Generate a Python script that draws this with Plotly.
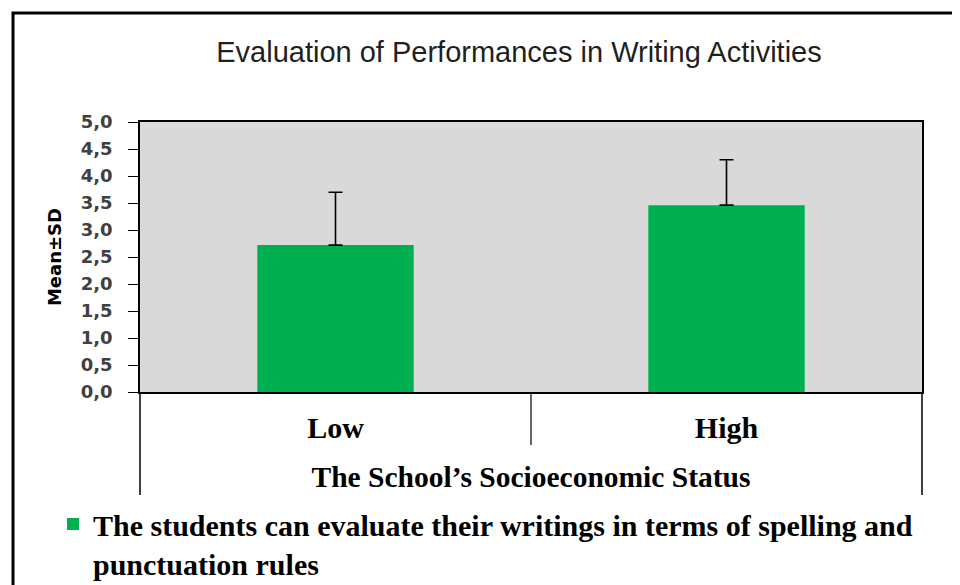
import plotly.graph_objects as go

categories = ["Low", "High"]
means = [2.72, 3.46]
sds = [0.98, 0.84]
series_name = "The students can evaluate their writings in terms of spelling and<br>punctuation rules"
y_ticks = [0, 0.5, 1, 1.5, 2, 2.5, 3, 3.5, 4, 4.5, 5]

# page body has an 8px margin; figure sized to fill the rest of the window
OFF = 8
W, H = 960 - OFF, 585 - OFF
# plot area in screen (reference) pixels
L, R, T, B = 140, 922, 122, 392

def px(x):
    return (x - L) / (R - L)

def py(y):
    return (B - y) / (B - T)

fig = go.Figure()
fig.add_trace(go.Bar(
    x=categories, y=means, name=series_name,
    marker=dict(color="#00b050", line=dict(width=0)),
    error_y=dict(type="data", array=sds, arrayminus=[0, 0], symmetric=False,
                 color="black", thickness=1.6, width=7),
    showlegend=True,
))

serif = "Liberation Serif, Times New Roman, serif"

shapes = [
    # category frame lines
    dict(type="line", xref="paper", yref="paper", x0=0, x1=0, y0=0, y1=py(495),
         line=dict(color="black", width=1.5)),
    dict(type="line", xref="paper", yref="paper", x0=1, x1=1, y0=0, y1=py(495),
         line=dict(color="black", width=1.5)),
    dict(type="line", xref="paper", yref="paper", x0=0.5, x1=0.5, y0=0, y1=py(445),
         line=dict(color="black", width=1.2)),
    # outer frame
    dict(type="rect", xref="paper", yref="paper", x0=px(13), x1=px(975), y0=py(13), y1=py(600),
         line=dict(color="black", width=3), layer="above"),
]

fig.update_layout(
    width=W, height=H,
    margin=dict(l=L - OFF, r=W - (R - OFF), t=T - OFF, b=H - (B - OFF), pad=0, autoexpand=False),
    paper_bgcolor="white",
    plot_bgcolor="#d9d9d9",
    separators=",.",
    bargap=0.6,
    title=dict(text="Evaluation of Performances in Writing Activities",
               xref="paper", x=px(519), xanchor="center",
               yref="container", y=1 - (52 - OFF) / H, yanchor="middle",
               font=dict(family="Liberation Sans, Arial, sans-serif",
                         size=29, color="#1f1f1f")),
    xaxis=dict(
        showline=True, linecolor="black", linewidth=1.5, mirror=True,
        ticks="outside", ticklen=8, tickcolor="rgba(0,0,0,0)",
        tickfont=dict(family=serif, size=30, color="black", weight="bold"),
        title=dict(text="The School’s Socioeconomic Status",
                   font=dict(family=serif, size=29.5, color="black", weight="bold"),
                   standoff=24),
        showgrid=False, zeroline=False, fixedrange=True,
    ),
    yaxis=dict(
        range=[0, 5], tickvals=y_ticks, tickformat=".1f",
        showline=True, linecolor="black", linewidth=1.5, mirror=True,
        ticks="outside", ticklen=10, tickcolor="black", tickwidth=1.2,
        ticklabelstandoff=12,
        tickfont=dict(family="DejaVu Sans, Verdana, sans-serif", size=18, color="#404040", weight="bold"),
        title=dict(text="Mean±SD",
                   font=dict(family="DejaVu Sans, Verdana, sans-serif", size=18, color="black", weight="bold"),
                   standoff=14),
        showgrid=False, zeroline=False,
    ),
    legend=dict(
        x=px(53), xanchor="left", y=py(498), yanchor="top",
        font=dict(family=serif, size=30, color="black", weight="bold"),
        bgcolor="rgba(0,0,0,0)", itemwidth=30, tracegroupgap=0, valign="top",
        itemclick=False,
    ),
    shapes=shapes,
)

fig.write_html("out.html")
